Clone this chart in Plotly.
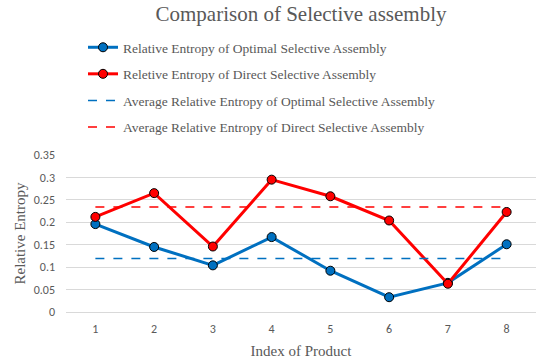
import plotly.graph_objects as go

products = [1, 2, 3, 4, 5, 6, 7, 8]
optimal = [0.196, 0.145, 0.104, 0.167, 0.092, 0.033, 0.065, 0.151]
direct = [0.212, 0.265, 0.146, 0.295, 0.258, 0.204, 0.063, 0.223]
avg_optimal = 0.119
avg_direct = 0.234

names = [
    "Relative Entropy of Optimal Selective Assembly",
    "Reletive Entropy of Direct Selective Assembly",
    "Average Relative Entropy of Optimal Selective Assembly",
    "Average Relative Entropy of Direct Selective Assembly",
]

BLUE = "#0070C0"
RED = "#FF0000"
GRAY = "#595959"
SERIF = "Liberation Serif, DejaVu Serif, serif"
SANS = "Carlito, Liberation Sans, Arial, sans-serif"

fig = go.Figure()
fig.add_trace(go.Scatter(
    x=products, y=optimal, name=names[0], mode="lines+markers",
    line=dict(color=BLUE, width=3),
    marker=dict(size=9, color=BLUE, line=dict(color="black", width=1)),
    legendgroup="a"))
fig.add_trace(go.Scatter(
    x=products, y=direct, name=names[1], mode="lines+markers",
    line=dict(color=RED, width=3),
    marker=dict(size=9, color=RED, line=dict(color="black", width=1)),
    legendgroup="b"))
fig.add_trace(go.Scatter(
    x=[products[0], products[-1]], y=[avg_optimal, avg_optimal], name=names[2],
    mode="lines", line=dict(color=BLUE, width=1.5, dash="dash"),
    legendgroup="c"))
fig.add_trace(go.Scatter(
    x=[products[0], products[-1]], y=[avg_direct, avg_direct], name=names[3],
    mode="lines", line=dict(color=RED, width=1.5, dash="dash"),
    legendgroup="d"))

L, R, T, B = 66, 14, 155, 49
W, H = 550, 361
pw, ph = W - L - R, H - T - B

fig.update_layout(
    width=W, height=H,
    margin=dict(l=L, r=R, t=T, b=B, autoexpand=False),
    paper_bgcolor="white", plot_bgcolor="white",
    title=dict(text="Comparison of Selective assembly", x=0.5, xanchor="center",
               xref="paper",
               y=1 - 14 / H, yanchor="middle",
               font=dict(family=SERIF, size=21, color=GRAY)),
    legend=dict(x=(83 - L) / pw, y=(H - B - 32) / ph, xanchor="left", yanchor="top",
                traceorder="grouped", tracegroupgap=6,
                font=dict(family=SERIF, size=13.5, color=GRAY),
                bgcolor="rgba(0,0,0,0)"),
    showlegend=True,
)
fig.update_xaxes(
    range=[0.5, 8.5], tickvals=products, showgrid=False, zeroline=False,
    showline=False, ticks="", ticklabelstandoff=8,
    tickfont=dict(family=SANS, size=12, color=GRAY),
    title=dict(text="Index of Product", font=dict(family=SERIF, size=15, color=GRAY),
               standoff=10))
fig.update_yaxes(
    range=[0, 0.35], dtick=0.05, showgrid=True, gridcolor="#D9D9D9", gridwidth=1,
    zeroline=True, zerolinecolor="#D9D9D9", zerolinewidth=1, showline=False,
    ticks="", ticklabelstandoff=10,
    tickfont=dict(family=SANS, size=12, color=GRAY),
    title=dict(text="Relative Entropy", font=dict(family=SERIF, size=15, color=GRAY),
               standoff=4))

fig.write_html("out.html", config={"displayModeBar": False},
               post_script="document.body.style.margin='0';")
